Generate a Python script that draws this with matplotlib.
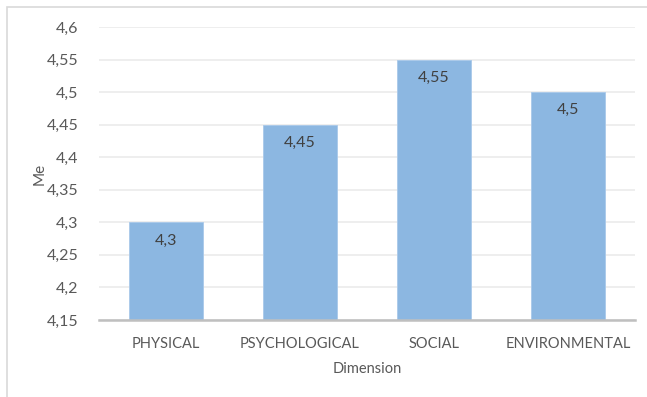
import matplotlib.pyplot as plt
from matplotlib.patches import Rectangle
from matplotlib.ticker import FuncFormatter

categories = ["PHYSICAL", "PSYCHOLOGICAL", "SOCIAL", "ENVIRONMENTAL"]
means = [4.3, 4.45, 4.55, 4.5]
yticks = [4.15, 4.2, 4.25, 4.3, 4.35, 4.4, 4.45, 4.5, 4.55, 4.6]

plt.rcParams['font.family'] = ['Lato', 'DejaVu Sans']

W, H = 647, 397
fig = plt.figure(figsize=(W / 100, H / 100), dpi=100)
ax = fig.add_axes([99 / W, 1 - 320 / H, (635 - 99) / W, (320 - 27) / H])

# outer chart border (only top/left visible in the crop)
fig.patches.append(Rectangle((7 / W, -0.1), 1.2, 1 - 7 / H + 0.1,
                             transform=fig.transFigure, fill=False,
                             edgecolor='#D9D9D9', linewidth=1.2))

def comma(v, pos=None):
    s = ("%.2f" % v).rstrip('0').rstrip('.')
    return s.replace('.', ',')

x = range(len(categories))
bars = ax.bar(x, means, width=0.55, color='#8CB7E1', edgecolor='#A9C9EA',
              linewidth=0.6, zorder=2)

for xi, v in zip(x, means):
    ax.text(xi, v - 0.028, comma(v), ha='center', va='center',
            fontsize=11.5, color='#404040', zorder=3)

ax.set_xlim(-0.5, 3.5)
ax.set_ylim(4.15, 4.6)
ax.set_yticks(yticks)
ax.yaxis.set_major_formatter(FuncFormatter(comma))
ax.set_xticks(list(x))
ax.set_xticklabels(categories, fontsize=10.5)
ax.grid(axis='y', color='#EBEBEB', linewidth=1.2, zorder=0)
ax.set_axisbelow(True)

for s in ['top', 'right', 'left']:
    ax.spines[s].set_visible(False)
ax.spines['bottom'].set_color('#BFBFBF')
ax.spines['bottom'].set_linewidth(1.8)
ax.tick_params(axis='both', length=0, colors='#595959')
ax.tick_params(axis='y', pad=15, labelsize=11.5)
ax.tick_params(axis='x', pad=12)

ax.set_xlabel("Dimension", fontsize=10.5, color='#595959', labelpad=8)
ax.set_ylabel("Me", fontsize=11, color='#595959')
ax.yaxis.set_label_coords((47 - 99) / 536, 0.5)

fig.savefig("out.png", dpi=100)
